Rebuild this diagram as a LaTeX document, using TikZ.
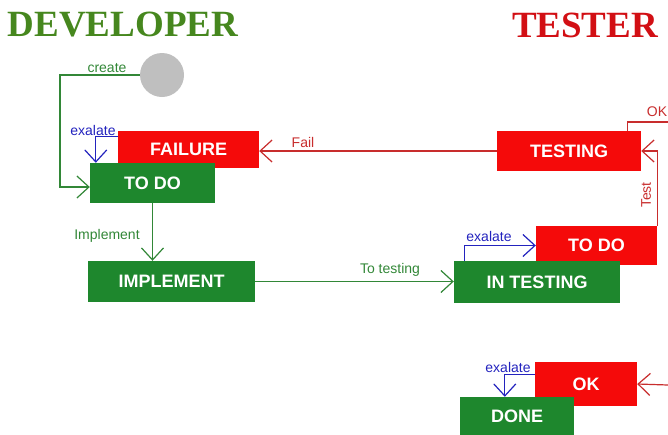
\documentclass[tikz,border=0pt]{standalone}
\usepackage{fontspec}
\setmainfont{Liberation Sans}
\newfontfamily\titlefont{Liberation Serif}
\usetikzlibrary{arrows.meta}
\definecolor{devgreen}{RGB}{30,135,45}
\definecolor{titlegreen}{RGB}{70,135,30}
\definecolor{testred}{RGB}{245,10,10}
\definecolor{titlered}{RGB}{210,15,20}
\definecolor{linegreen}{RGB}{50,135,55}
\definecolor{linered}{RGB}{200,45,45}
\definecolor{lineblue}{RGB}{35,35,190}
\tikzset{
  estado/.style={text=white, font=\fontsize{18}{21}\selectfont\bfseries, inner sep=0pt},
  dev/.style={estado, fill=devgreen},
  tst/.style={estado, fill=testred},
  flecha/.style={-{Straight Barb[length=12pt,width=22pt]}, line width=1.2pt},
  etiqueta/.style={font=\fontsize{14}{16}\selectfont, inner sep=1pt},
}
\begin{document}
\begin{tikzpicture}[x=1pt,y=-1pt]
        \useasboundingbox (0,0) rectangle (668,434);

        % Titulos
        \node[text=titlegreen, font=\titlefont\fontsize{37}{40}\selectfont\bfseries] (tdev) at (123,25) {DEVELOPER};
        \node[text=titlered, font=\titlefont\fontsize{37}{40}\selectfont\bfseries] (ttst) at (585,25) {TESTER};

        % Inicio
        \node[circle, fill=black!25, minimum size=44pt, inner sep=0pt] (inicio) at (162,75) {};

        % Estados del desarrollador
        \node[tst, minimum width=141pt, minimum height=37pt] (failure) at (188.5,149.5) {FAILURE};
        \node[dev, minimum width=125pt, minimum height=40pt] (todo) at (152.5,183) {TO DO};
        \node[dev, minimum width=167pt, minimum height=41pt] (implement) at (171.5,281.5) {IMPLEMENT};

        % Estados del tester
        \node[tst, minimum width=144pt, minimum height=40pt] (testing) at (569,151) {TESTING};
        \node[tst, minimum width=121pt, minimum height=39pt] (ttodo) at (596.5,245.5) {TO DO};
        \node[dev, minimum width=166pt, minimum height=42pt] (intesting) at (537,282) {IN TESTING};
        \node[tst, minimum width=102pt, minimum height=44pt] (ok) at (586,384) {OK};
        \node[dev, minimum width=114pt, minimum height=38pt] (done) at (517,416) {DONE};

        % Flechas
        \coordinate (c1) at (60,75);
        \draw[flecha, linegreen] (inicio.west) -- (c1) |- ([yshift=-4pt]todo.west);
        \node[etiqueta, text=linegreen] (lcreate) at (107,68) {create};

        \draw[flecha, lineblue] ([yshift=-6pt]failure.north west) -| ([xshift=6pt]todo.north west);
        \node[etiqueta, text=lineblue] (lesc1) at (93,130) {exalate};

        \draw[flecha, linered] (testing.west) -- (testing.west -| failure.east);
        \node[etiqueta, text=linered] (lfail) at (303,142) {Fail};

        \draw[flecha, linegreen] (todo.south) -- (todo.south |- implement.north);
        \node[etiqueta, text=linegreen] (limpl) at (107,236) {Implement};

        \draw[flecha, linegreen] (implement.east) -- (implement.east -| intesting.west);
        \node[etiqueta, text=linegreen] (lto) at (390,270) {To testing};

        \draw[flecha, lineblue] ([xshift=11pt]intesting.north west) |- (ttodo.west);
        \node[etiqueta, text=lineblue] (lesc2) at (489,236) {exalate};

        \draw[flecha, linered] (ttodo.north east) |- (testing.east);
        \node[etiqueta, text=linered, rotate=90] (ltest) at (646,195) {Test};

        \coordinate (okfin) at (668,122);
        \draw[line width=1.2pt, linered] ([xshift=-14pt]testing.north east) |- (okfin);
        \node[etiqueta, text=linered] (lok) at (657,112) {OK};

        \coordinate (okin) at (668,385);
        \draw[flecha, linered] (okin) -- (ok.east);

        \draw[flecha, lineblue] ([yshift=-13pt]ok.north west) -| ([xshift=45pt]done.north west);
        \node[etiqueta, text=lineblue] (lesc3) at (508,367) {exalate};
\end{tikzpicture}
\end{document}
